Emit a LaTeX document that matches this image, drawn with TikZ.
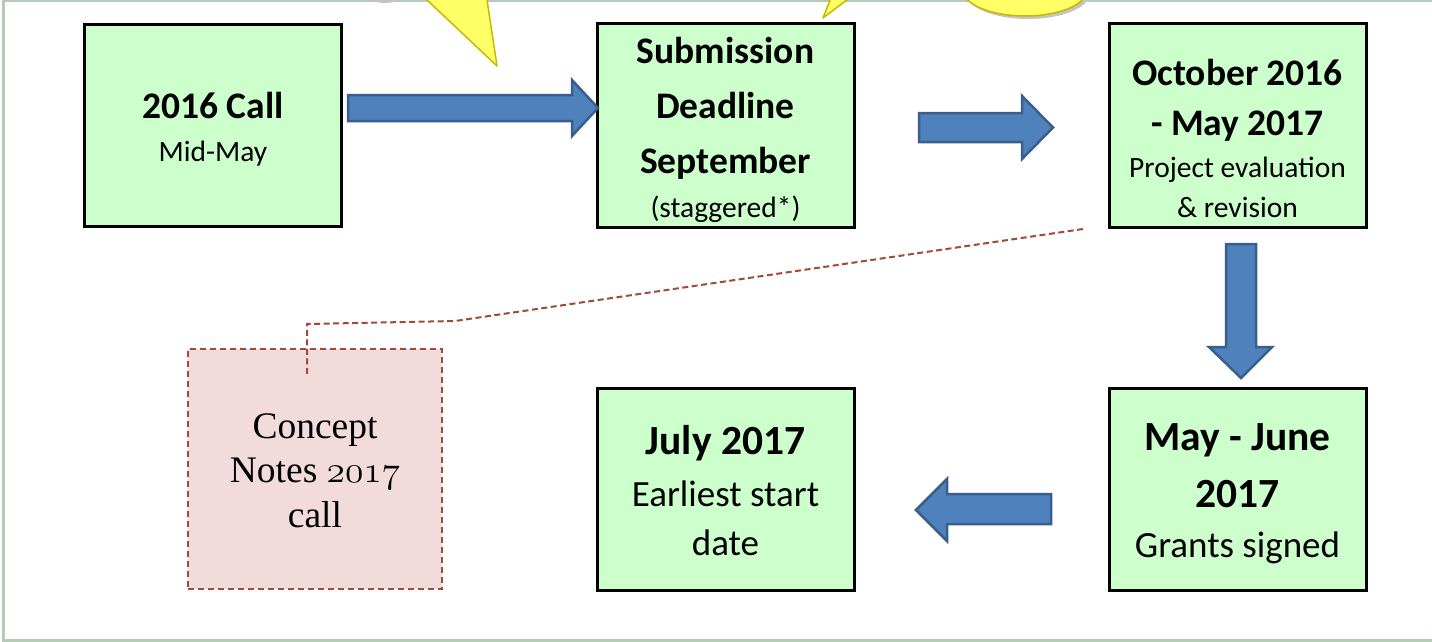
\RequirePackage{fix-cm}
\documentclass[tikz,border=0pt]{standalone}
\usepackage{fontspec}
\newfontfamily\carlito{Carlito}
\newfontfamily\serifnote{Liberation Serif}
\definecolor{boxgreen}{HTML}{CCFFCC}
\definecolor{arrowblue}{HTML}{4F81BD}
\definecolor{arrowedge}{HTML}{3A5F8C}
\definecolor{conceptpink}{HTML}{F2DCDB}
\definecolor{dashbrown}{HTML}{A04A3A}
\definecolor{calloutyellow}{HTML}{FFFF66}
\definecolor{calloutedge}{HTML}{CDB600}
\definecolor{framecol}{HTML}{B6CBB6}
\definecolor{shadowgray}{HTML}{C4C4C4}
\newcommand\tstrut[1]{\rule{0pt}{#1}}
\newcommand\bstrut[1]{\rule[-#1]{0pt}{#1}}
\newcommand\BA{\fontsize{37.5}{40}\selectfont\bfseries}
\newcommand\SA{\fontsize{29.5}{32}\selectfont}
\newcommand\BB{\fontsize{41.5}{44}\selectfont\bfseries}
\newcommand\SB{\fontsize{37}{40}\selectfont}
\tikzset{
  greenbox/.style={draw=black, line width=3pt, fill=boxgreen, minimum width=257pt,
    minimum height=202pt, inner sep=0pt, align=center},
  conceptbox/.style={draw=dashbrown, fill=conceptpink, line width=2pt,
    dash pattern=on 6pt off 4pt, minimum width=254pt, minimum height=240pt,
    inner sep=0pt, align=center},
  blockarrow/.style={fill=arrowblue, draw=arrowedge, line width=2.5pt, line join=miter},
  leader/.style={draw=dashbrown, line width=2pt, dash pattern=on 6pt off 3.5pt},
  callout/.style={fill=calloutyellow, draw=calloutedge, line width=1.5pt, line join=round},
}
\begin{document}
\begin{tikzpicture}[x=1pt, y=-1pt]
\useasboundingbox (0,0) rectangle (1432,642);
\clip (0,0) rectangle (1432,642);
\fill[white] (0,0) rectangle (1432,642);
% frame
\draw[framecol, line width=2.5pt] (3.5,1) rectangle (1450,640.5);
% callouts cut by the top edge
\fill[shadowgray] (385,-20) ellipse [x radius=30, y radius=23];
\draw[callout] (416.4,-10) -- (497,66) -- (485.5,-10) -- cycle;
\draw[callout] (834,-10) -- (823,18) -- (860,-10) -- cycle;
\fill[shadowgray] (1028,-7) ellipse [x radius=62, y radius=26];
\draw[callout] (1025,-10) ellipse [x radius=62, y radius=26];
% boxes
\node[greenbox, font=\carlito\fontsize{29.5}{43}\selectfont] (call) at (213,125.5)
  {{\BA\tstrut{38pt}2016 Call}\\{\SA\bstrut{10pt}Mid-May}};
\node[greenbox, font=\carlito\fontsize{29.5}{44}\selectfont] (sub) at (725.5,125.5)
  {{\BA\tstrut{39pt}Submission}\\[11pt]{\BA Deadline}\\[11pt]{\BA September}\\{\SA\bstrut{10pt}(staggered*)}};
\node[greenbox, font=\carlito\fontsize{29.5}{40}\selectfont] (oct) at (1237.5,125.5)
  {{\BA\tstrut{61pt}October 2016}\\[10pt]{\BA - May 2017}\\[2pt]{\SA Project evaluation}\\{\SA\bstrut{10pt}\& revision}};
\node[greenbox, font=\carlito\fontsize{37}{49}\selectfont] (july) at (725.5,489.5)
  {{\BB\tstrut{40pt}July 2017}\\[3pt]{\SB Earliest start}\\{\SB\bstrut{10pt}date}};
\node[greenbox, font=\carlito\fontsize{37}{50}\selectfont] (grant) at (1237.5,489.5)
  {{\BB\tstrut{40pt}May - June}\\[7pt]{\BB 2017}\\{\SB\bstrut{12pt}Grants signed}};
\node[conceptbox, font=\serifnote\fontsize{37.5}{44.5}\selectfont] (concept) at (315,469)
  {\tstrut{37pt}Concept\\Notes $\mathnormal{2017}$\\\bstrut{10pt}call};
% leader line from the evaluation phase to the concept note box
\coordinate (leadstart) at (1083,229);
\coordinate (leadbend) at (455,321);
\coordinate (leadcorner) at (307,324);
\coordinate (leadend) at (307,377);
\draw[leader] (leadstart) -- (leadbend) -- (leadcorner) -- (leadend);
% block arrows
\draw[blockarrow] (348,95) -- (572,95) -- (572,80) -- (598,108) -- (572,136) -- (572,121) -- (348,121) -- cycle;
\draw[blockarrow] (919,113) -- (1022,113) -- (1022,96) -- (1053,127.5) -- (1022,159) -- (1022,142) -- (919,142) -- cycle;
\draw[blockarrow] (1226,244) -- (1256,244) -- (1256,347) -- (1272,347) -- (1241,378) -- (1209,347) -- (1226,347) -- cycle;
\draw[blockarrow] (1051,494) -- (947,494) -- (947,479) -- (916,510) -- (947,541) -- (947,524) -- (1051,524) -- cycle;
\end{tikzpicture}
\end{document}
